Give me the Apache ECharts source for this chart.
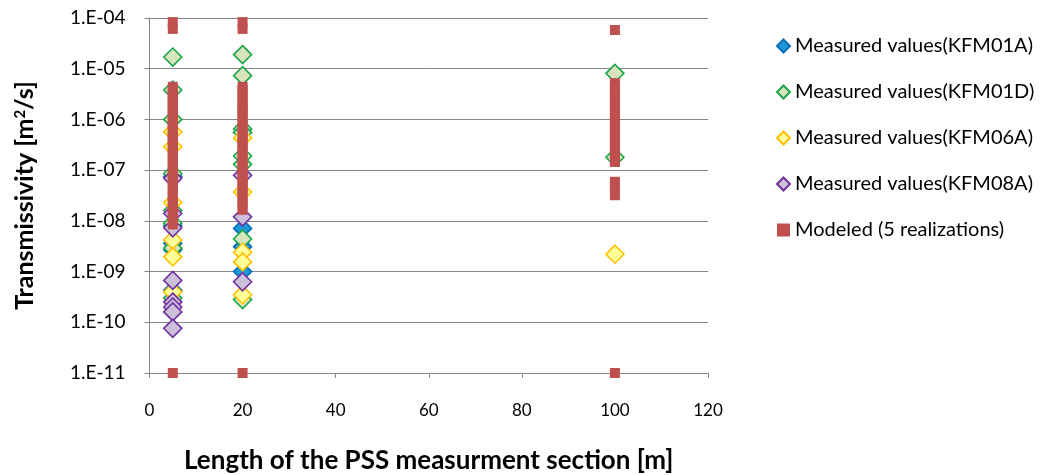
<!DOCTYPE html>
<html>
<head>
<meta charset="utf-8">
<script src="https://cdn.jsdelivr.net/npm/echarts@6/dist/echarts.min.js"></script>
<style>
  html, body { margin: 0; padding: 0; background: #fff; }
  #chart { width: 1048px; height: 475px; }
</style>
</head>
<body>
<div id="chart"></div>
<script>
// Section lengths on the x axis and tick labels
const xTicks = [0, 20, 40, 60, 80, 100, 120];
const yTickLabels = ['1.E-11', '1.E-10', '1.E-09', '1.E-08', '1.E-07', '1.E-06', '1.E-05', '1.E-04'];

// Measured transmissivity [m2/s] per borehole, as [section length, value]
const KFM01A = [
  [5, 7.5e-8], [5, 8.0e-9], [5, 3.6e-9], [5, 2.7e-9], [5, 4.3e-10],
  [20, 7.1e-9], [20, 3.1e-9], [20, 1.0e-9]
];
const KFM01D = [
  [5, 1.7e-5], [5, 3.8e-6], [5, 1.0e-6], [5, 8.6e-8], [5, 1.6e-8], [5, 9.0e-9], [5, 2.9e-9], [5, 3.0e-10],
  [20, 1.9e-5], [20, 7.3e-6], [20, 6.5e-7], [20, 5.5e-7], [20, 1.9e-7], [20, 1.3e-7], [20, 4.4e-9], [20, 2.8e-10],
  [100, 8.1e-6], [100, 1.8e-7]
];
const KFM06A = [
  [5, 5.7e-7], [5, 2.9e-7], [5, 2.3e-8], [5, 4.2e-9], [5, 1.95e-9], [5, 4.0e-10],
  [20, 4.3e-7], [20, 3.7e-8], [20, 2.4e-9], [20, 1.55e-9], [20, 3.5e-10],
  [100, 2.2e-9]
];
const KFM08A = [
  [5, 6.9e-8], [5, 1.4e-8], [5, 7.3e-9], [5, 6.7e-10], [5, 2.5e-10], [5, 2.0e-10], [5, 1.6e-10], [5, 7.6e-11],
  [20, 7.9e-8], [20, 1.2e-8], [20, 6.3e-10]
];

// Modeled transmissivity from five realizations, per section length
const modeled5 = [
  8.3e-5, 6.1e-5,
  4.4e-6, 3.9e-6, 3.2e-6, 2.8e-6, 2.3e-6, 2.0e-6, 1.7e-6, 1.4e-6, 1.25e-6, 1.05e-6,
  8.9e-7, 7.6e-7, 6.3e-7, 5.2e-7, 4.7e-7, 4.0e-7, 3.3e-7, 2.8e-7, 2.4e-7, 2.0e-7,
  1.7e-7, 1.4e-7, 1.2e-7, 1.0e-7, 8.3e-8, 7.1e-8, 6.0e-8, 5.0e-8, 4.2e-8, 3.5e-8,
  3.0e-8, 2.5e-8, 2.1e-8, 1.8e-8, 1.5e-8, 1.26e-8, 1.05e-8, 8.5e-9,
  1.0e-11
];
const modeled20 = [
  8.3e-5, 6.1e-5,
  4.4e-6, 3.8e-6, 3.1e-6, 2.7e-6, 2.2e-6, 1.9e-6, 1.6e-6, 1.35e-6, 1.15e-6, 9.5e-7,
  8.0e-7, 6.8e-7, 5.7e-7, 4.8e-7, 4.0e-7, 3.4e-7, 2.9e-7, 2.4e-7, 2.0e-7, 1.7e-7,
  1.4e-7, 1.2e-7, 1.0e-7, 8.4e-8, 7.0e-8, 5.9e-8, 5.0e-8, 4.2e-8, 3.5e-8, 2.9e-8,
  2.4e-8, 2.0e-8, 1.65e-8,
  1.0e-11
];
const modeled100 = [
  5.8e-5,
  5.2e-6, 4.5e-6, 3.8e-6, 3.2e-6, 2.6e-6, 2.2e-6, 1.8e-6, 1.5e-6, 1.2e-6, 1.0e-6,
  8.2e-7, 6.8e-7, 5.6e-7, 4.6e-7, 3.8e-7, 3.1e-7, 2.6e-7, 2.1e-7, 1.7e-7, 1.45e-7,
  5.9e-8, 4.5e-8, 3.2e-8,
  1.0e-11
];

const modeled = []
  .concat(modeled5.map(v => [5, v]))
  .concat(modeled20.map(v => [20, v]))
  .concat(modeled100.map(v => [100, v]));

const FONT = 'Lato, "Open Sans", "Liberation Sans", sans-serif';

function diamondSeries(name, data, fill, stroke) {
  return {
    name: name,
    type: 'scatter',
    data: data,
    symbol: 'diamond',
    symbolSize: 18,
    itemStyle: { color: fill, borderColor: stroke, borderWidth: 1.6, opacity: 1 },
    emphasis: { disabled: true }
  };
}

const chart = echarts.init(document.getElementById('chart'), null, { renderer: 'canvas' });

chart.setOption({
  animation: false,
  backgroundColor: '#ffffff',
  grid: { left: 149.5, right: 340, top: 18, bottom: 102, containLabel: false, outerBoundsMode: 'none' },
  legend: {
    orient: 'vertical',
    left: 771,
    top: 30,
    itemWidth: 13,
    itemHeight: 13,
    itemGap: 24,
    textStyle: { fontFamily: FONT, fontSize: 20, color: '#000', lineHeight: 22 },
    data: [
      { name: 'Measured values(KFM01A)', icon: 'diamond' },
      { name: 'Measured values(KFM01D)', icon: 'diamond' },
      { name: 'Measured values(KFM06A)', icon: 'diamond' },
      { name: 'Measured values(KFM08A)', icon: 'diamond' },
      { name: 'Modeled (5 realizations)', icon: 'rect' }
    ]
  },
  xAxis: {
    type: 'value',
    min: xTicks[0],
    max: xTicks[xTicks.length - 1],
    interval: 20,
    name: 'Length of the PSS measurment section [m]',
    nameLocation: 'middle',
    nameGap: 75,
    nameTextStyle: { fontFamily: FONT, fontSize: 26, fontWeight: 'bold', color: '#000' },
    axisLine: { show: true, lineStyle: { color: '#868686', width: 1 } },
    axisTick: { show: true, length: 5, inside: false, lineStyle: { color: '#868686' } },
    axisLabel: { fontFamily: FONT, fontSize: 17, color: '#000', margin: 29 },
    splitLine: { show: false }
  },
  yAxis: {
    type: 'log',
    logBase: 10,
    min: 1e-11,
    max: 1e-4,
    name: 'Transmissivity [m{sup|2}/s]',
    nameLocation: 'middle',
    nameRotate: 90,
    nameGap: 112,
    nameTextStyle: {
      fontFamily: FONT, fontSize: 25, fontWeight: 'bold', color: '#000',
      rich: { sup: { fontFamily: FONT, fontSize: 15, fontWeight: 'bold', color: '#000', verticalAlign: 'top', padding: [0, 0, 10, 0] } }
    },
    axisLine: { show: true, lineStyle: { color: '#868686', width: 1 } },
    axisTick: { show: true, length: 5, inside: false, lineStyle: { color: '#868686' } },
    axisLabel: {
      fontFamily: FONT, fontSize: 19, color: '#000', margin: 24,
      formatter: function (v) {
        const e = Math.round(Math.log10(v));
        return yTickLabels[e + 11];
      }
    },
    splitLine: { show: true, lineStyle: { color: '#868686', width: 1 } }
  },
  series: [
    diamondSeries('Measured values(KFM01A)', KFM01A, '#1C97DA', '#0A6FB5'),
    diamondSeries('Measured values(KFM01D)', KFM01D, '#D7E4BD', '#1BA64A'),
    diamondSeries('Measured values(KFM06A)', KFM06A, '#FFFF99', '#FFC000'),
    diamondSeries('Measured values(KFM08A)', KFM08A, '#CCC0DA', '#7030A0'),
    {
      name: 'Modeled (5 realizations)',
      type: 'scatter',
      data: modeled,
      symbol: 'rect',
      symbolSize: 10,
      itemStyle: { color: '#C0504D', opacity: 1 },
      emphasis: { disabled: true }
    }
  ]
});
</script>
</body>
</html>
